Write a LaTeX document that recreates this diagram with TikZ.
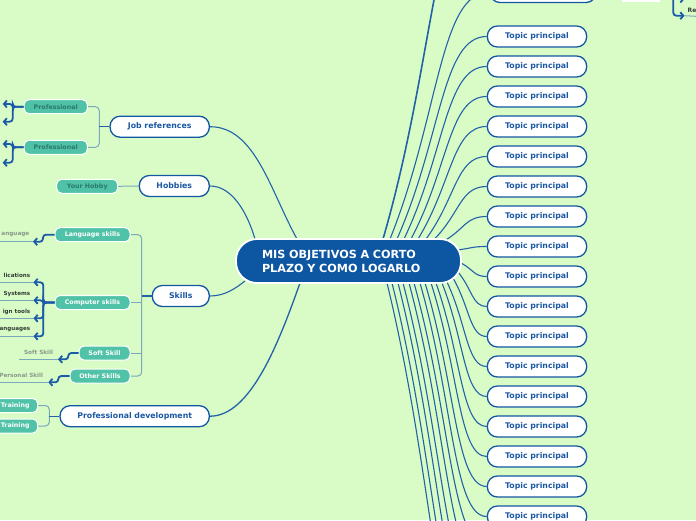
\documentclass[tikz,border=0pt]{standalone}
\usepackage{fontspec}
\setmainfont{DejaVu Sans}
\usetikzlibrary{arrows.meta,calc}
\pgfdeclarelayer{bg}\pgfsetlayers{bg,main}
\definecolor{bgc}{HTML}{D9FCC7}
\definecolor{cblue}{HTML}{0C56A2}
\definecolor{nblue}{HTML}{1257A2}
\definecolor{ttext}{HTML}{1B58A3}
\definecolor{lblue}{HTML}{2362A8}
\definecolor{sblue}{HTML}{1A5AA6}
\definecolor{tealc}{HTML}{50C2A8}
\definecolor{tealtext}{HTML}{2B7A68}
\definecolor{brk}{HTML}{7BA9BC}
\definecolor{grayt}{HTML}{8A978A}
\definecolor{darkt}{HTML}{333D36}
\tikzset{
  central/.style={fill=cblue, draw=white, line width=1.8pt, rounded corners=21pt, minimum height=44pt, text width=173pt, inner xsep=26pt, inner ysep=0pt, align=left, text=white, font=\fontsize{11.2}{14}\selectfont\bfseries},
  topic/.style={draw=nblue, line width=1.3pt, fill=white, rounded corners=10pt, minimum height=21pt, inner sep=0pt, text=ttext, font=\fontsize{7.8}{9}\selectfont\bfseries},
  tealbox/.style={fill=tealc, draw=white, line width=1pt, rounded corners=5pt, minimum height=14pt, inner sep=0pt, text=white, font=\fontsize{6.3}{7}\selectfont\bfseries},
  link/.style={draw=lblue, line width=1.1pt},
  brack/.style={draw=brk, line width=1pt, rounded corners=4pt},
  subarrow/.style={draw=sblue, line width=1.8pt, rounded corners=3pt, -{Straight Barb[length=3pt,width=7pt]}},
  leaf/.style={anchor=east, inner sep=0pt, font=\fontsize{5.6}{7}\selectfont\bfseries},
  grayleaf/.style={anchor=east, inner sep=0pt, text=grayt, font=\fontsize{5.7}{7}\selectfont\bfseries},
  underl/.style={draw=brk, line width=1pt},
}
\begin{document}
\begin{tikzpicture}[x=1pt,y=-1pt]
\useasboundingbox (0,0) rectangle (696,520);
\clip (0,0) rectangle (696,520);

% central node
\node[central] (c) at (348.5,261) {MIS OBJETIVOS A CORTO\\PLAZO Y COMO LOGARLO};

% right topics
\foreach \i in {1,...,17}
  \node[topic, minimum width=99.3pt] (t\i) at (537,{36.5+30*(\i-1)}) {Topic principal};
\node[topic, minimum width=106pt] (tp) at (543,-8) {};

% left main topics
\node[topic, minimum width=99.3pt] (jr) at (159.7,126.7) {Job references};
\node[topic, minimum width=70pt] (hb) at (174.3,186) {Hobbies};
\node[topic, minimum width=57pt] (sk) at (180.8,296) {Skills};
\node[topic, minimum width=149.3pt] (pd) at (134.7,416.2) {Professional development};

% teal subtopics
\node[tealbox, minimum width=63.3pt, text=tealtext] (p1) at (55.7,106.7) {Professional};
\node[tealbox, minimum width=63.3pt, text=tealtext] (p2) at (55.7,147.3) {Professional};
\node[tealbox, minimum width=61pt, text=tealtext] (yh) at (87.2,186.3) {Your Hobby};
\node[tealbox, minimum width=75pt] (ls) at (92.5,234.7) {Language skills};
\node[tealbox, minimum width=75pt] (cs) at (92.5,302.5) {Computer skills};
\node[tealbox, minimum width=51pt] (ss) at (104.5,353) {Soft Skill};
\node[tealbox, minimum width=60pt] (os) at (100,376) {Other Skills};
\node[tealbox, minimum width=45pt] (tr1) at (15.2,405.5) {Training};
\node[tealbox, minimum width=45pt] (tr2) at (15.2,426) {Training};

% leaves
\node[grayleaf] (lsl) at (29.5,234.7) {anguage};
\node[leaf, text=darkt] (cl1) at (30.5,275.7) {lications};
\node[leaf, text=darkt] (cl2) at (30.5,293.7) {Systems};
\node[leaf, text=darkt] (cl3) at (30.5,311.7) {ign tools};
\node[leaf, text=darkt] (cl4) at (30.5,329.7) {anguages};
\node[grayleaf] (ssl) at (53.3,352.3) {Soft Skill};
\node[grayleaf] (osl) at (43.3,375.3) {Personal Skill};

% top right fragments
\node[fill=white, inner sep=0pt, minimum width=38pt, minimum height=20pt] (wr) at (641,-8.5) {};
\node[anchor=west, inner sep=0pt, text=darkt, font=\fontsize{6}{7}\selectfont\bfseries] (re) at (687.5,10) {Re};

\begin{pgfonlayer}{bg}
\clip (0,0) rectangle (696,520);
\fill[bgc] (0,0) rectangle (696,520);
% right-side links
\foreach \k/\sx/\sy/\tg in {
  1/397/239/t1.west, 2/404/239/t2.west, 3/411/239/t3.west, 4/418/239/t4.west,
  5/426/239/t5.west, 6/434/239.5/t6.west, 7/444/241/t7.west, 8/457/250/t8.west,
  9/461/263/t9.west, 10/458/272/t10.west, 11/453/278/t11.west, 12/447/282/t12.west,
  13/442/283/t13.west, 14/436/283/t14.west, 15/431/283/t15.west, 16/425/283/t16.west,
  17/420/283/t17.west, 18/390/239/tp.west} {
  \coordinate (s\k) at (\sx,\sy);
  \coordinate (m\k) at ($(s\k)!0.5!(\tg)$);
  \draw[link] (s\k) .. controls (m\k) and (m\k |- \tg) .. (\tg);
}
% links to topics beyond the frame
\foreach \k/\sx/\sy/\ty in {1/414/283/546.5, 2/409/283/576.5, 3/403/283/606.5,
  4/398/283/636.5, 5/392/283/666.5, 6/387/283/696.5} {
  \coordinate (ds\k) at (\sx,\sy);
  \coordinate (de\k) at (488,\ty);
  \coordinate (dm\k) at ($(ds\k)!0.5!(de\k)$);
  \draw[link] (ds\k) .. controls (dm\k) and (dm\k |- de\k) .. (de\k);
}
\coordinate (us) at (383,239);
\coordinate (ue) at (488,-120);
\coordinate (um) at ($(us)!0.5!(ue)$);
\draw[link, line width=1.6pt] (us) .. controls (um) and (um |- ue) .. (ue);

% left-side links
\coordinate (cjr) at (297,239);
\coordinate (chb) at (255,239);
\coordinate (csk) at (245,281);
\coordinate (cpd) at (300,283);
\draw[link] (jr.east) .. controls (255,126.7) and (270,190) .. (cjr);
\draw[link] (hb.east) .. controls (232,186) and (247,212) .. (chb);
\draw[link] (sk.east) .. controls (225,296) and (236,288) .. (csk);
\draw[link, line width=1.3pt] (pd.east) .. controls (250,416.2) and (278,345) .. (cpd);

% brackets
\draw[brack] (p1.east) -- (99.3,106.7) -- (99.3,147.3) -- (p2.east);
\draw[link] (99.3,126.7) -- (jr.west);
\draw[brack] (yh.east) -- (hb.west);
\draw[brack] (ls.east) -- (141.7,234.7) -- (141.7,376) -- (os.east);
\draw[brack] (cs.east) -- (141.7,302.5);
\draw[brack] (ss.east) -- (141.7,353);
\draw[link] (141.7,296) -- (sk.west);
\draw[brack] (tr1.east) -- (49.3,405.5) -- (49.3,426) -- (tr2.east);
\draw[link] (49.3,416.2) -- (pd.west);

% underlines
\coordinate (lsa) at (33,241.7);  \coordinate (lsu) at (0,241.7);
\draw[underl] (lsu) -- (lsa);
\foreach \j/\ya in {1/282.3, 2/300.3, 3/318.3, 4/336.3} {
  \coordinate (csa\j) at (33.5,\ya);
  \coordinate (csu\j) at (0,\ya);
  \draw[underl] (csu\j) -- (csa\j);
}
\coordinate (ssa) at (58,359.3);  \coordinate (ssu) at (19,359.3);
\draw[underl] (ssu) -- (ssa);
\coordinate (osa) at (48.3,382.3);  \coordinate (osu) at (0,382.3);
\draw[underl] (osu) -- (osa);
\coordinate (rb2) at (684.5,15.7); \coordinate (reu) at (696,16.3);
\draw[underl] (rb2) -- (reu);
\end{pgfonlayer}

% thick blue sub-connectors
\draw[subarrow] (ls.west) -- (43,234.7) -- (43,241.7) -- (lsa);
\foreach \j/\ya in {1/282.3, 2/300.3, 3/318.3, 4/336.3}
  \draw[subarrow] (cs.west) -- (43.3,302.5) -- (43.3,\ya) -- (csa\j);
\draw[subarrow] (ss.west) -- (68.3,353) -- (68.3,359.3) -- (ssa);
\draw[subarrow] (os.west) -- (58.3,376) -- (58.3,382.3) -- (osa);
\coordinate (pa1) at (2.7,104);  \coordinate (pa2) at (2.7,121.7);
\coordinate (pa3) at (2.7,144);  \coordinate (pa4) at (2.7,162.7);
\draw[subarrow] (p1.west) -- (12.7,106.7) -- (12.7,104) -- (pa1);
\draw[subarrow] (p1.west) -- (12.7,106.7) -- (12.7,121.7) -- (pa2);
\draw[subarrow] (p2.west) -- (12.7,147.3) -- (12.7,144) -- (pa3);
\draw[subarrow] (p2.west) -- (12.7,147.3) -- (12.7,162.7) -- (pa4);
\coordinate (rb0) at (673.3,-30); \coordinate (rb1) at (684.5,-1);
\draw[subarrow] (rb0) -- (673.3,15.7) -- (rb2);
\draw[subarrow] (673.3,-1) -- (rb1);
\end{tikzpicture}
\end{document}
